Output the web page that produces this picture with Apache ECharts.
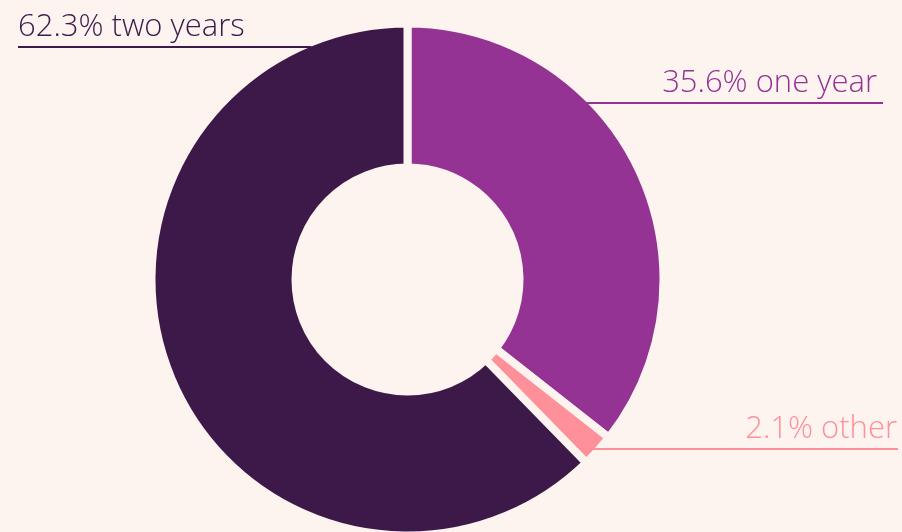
<!DOCTYPE html>
<html>
<head>
<meta charset="utf-8">
<script src="https://cdn.jsdelivr.net/npm/echarts@6/dist/echarts.min.js"></script>
<style>
  html, body { margin: 0; padding: 0; background: #fdf4f0; }
  #chart { width: 902px; height: 532px; }
</style>
</head>
<body>
<div id="chart"></div>
<script>
// Share of terms, drawn clockwise from 12 o'clock
const categories = ['one year', 'other', 'two years'];
const shares = [35.6, 2.1, 62.3];
const colors = ['#943393', '#fd9098', '#3d194a'];

const bg = '#fdf4f0';
const cx = 407.5, cy = 279.5, outerR = 256, innerR = 112, gap = 8;
const visibleR = outerR - gap / 2;

// Underlined callouts: the line runs at lineY from the text's far end to the ring's edge
const callouts = [
  { lineY: 103, end: 883, inset: 6, side: 'right' },
  { lineY: 449, end: 898, inset: 1, side: 'right' },
  { lineY: 47, end: 18, inset: 0, side: 'left' }
];

const seriesData = categories.map((name, i) => ({ name, value: shares[i] }));

const chart = echarts.init(document.getElementById('chart'), null, { renderer: 'canvas' });

chart.setOption({
  backgroundColor: bg,
  animation: false,
  series: [
    // the ring itself; the background-coloured border opens the gaps between slices
    {
      type: 'pie',
      z: 1,
      silent: true,
      center: [cx, cy],
      radius: [innerR, outerR],
      startAngle: 90,
      clockwise: true,
      data: seriesData.map((d, i) => ({ ...d, itemStyle: { color: colors[i] } })),
      itemStyle: { borderColor: bg, borderWidth: gap },
      label: { show: false },
      labelLine: { show: false }
    },
    // transparent twin on top that carries the underlined callouts
    {
      type: 'pie',
      z: 2,
      silent: true,
      center: [cx, cy],
      radius: [innerR + gap / 2, visibleR],
      startAngle: 90,
      clockwise: true,
      avoidLabelOverlap: false,
      data: seriesData.map((d, i) => ({
        ...d,
        label: { color: colors[i] },
        labelLine: { lineStyle: { color: colors[i] } }
      })),
      itemStyle: { color: 'rgba(0,0,0,0)' },
      label: {
        show: true,
        formatter: p => p.value.toFixed(1) + '% ' + p.name,
        fontFamily: '"Open Sans", sans-serif',
        fontWeight: 300,
        fontSize: 31,
        lineHeight: 32
      },
      labelLine: { show: true, length: 10, length2: 10, lineStyle: { width: 2 } },
      labelLayout: params => {
        const c = callouts[params.dataIndex];
        const dy = c.lineY - cy;
        const dx = Math.sqrt(visibleR * visibleR - dy * dy);
        const edgeX = c.side === 'right' ? cx + dx - 1 : cx - dx + 1;
        const textX = c.side === 'right' ? c.end - c.inset : c.end + c.inset;
        return {
          x: textX,
          y: c.lineY - 4,
          align: c.side === 'right' ? 'right' : 'left',
          verticalAlign: 'bottom',
          labelLinePoints: [[edgeX, c.lineY], [(edgeX + c.end) / 2, c.lineY], [c.end, c.lineY]]
        };
      }
    }
  ]
});
</script>
</body>
</html>
